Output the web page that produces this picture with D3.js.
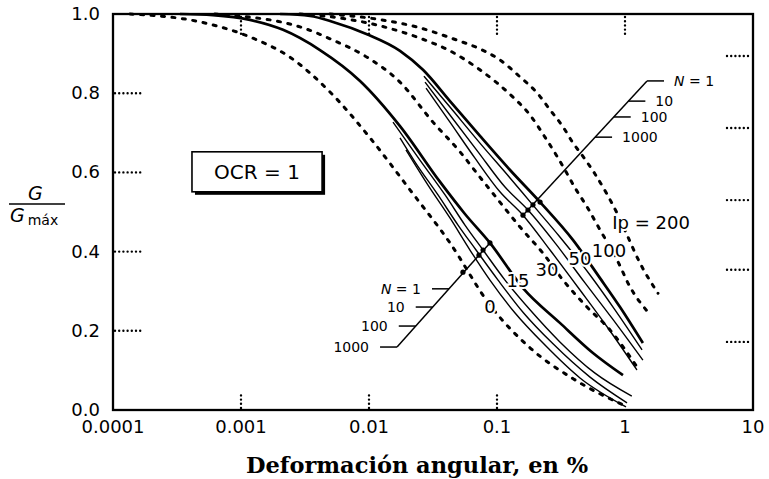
<!DOCTYPE html>
<html><head><meta charset="utf-8">
<script src="https://cdn.jsdelivr.net/npm/d3@7"></script>
<style>body{margin:0;background:#fff}</style>
</head><body>
<svg id="chart" width="769" height="479"></svg>
<script>
// Axis ticks
const xTicks = [0.0001, 0.001, 0.01, 0.1, 1, 10];
const xTickLabels = ["0.0001", "0.001", "0.01", "0.1", "1", "10"];
const yTicks = [0, 0.2, 0.4, 0.6, 0.8, 1.0];
const yTickLabels = ["0.0", "0.2", "0.4", "0.6", "0.8", "1.0"];
const topMarks = [0.001, 0.01, 0.1, 1];
const bottomMarks = [0.001, 0.01, 0.1];
const leftMarks = [0.2, 0.4, 0.6, 0.8];
const rightMarks = [0.894, 0.712, 0.530, 0.354, 0.172];

// Reference curves by plasticity index (dashed): [strain %, G/Gmax]
const ip0 = [[0.000136,1.0],[0.000479,0.980],[0.001175,0.942],[0.00241,0.891],[0.00496,0.803],[0.0102,0.687],[0.0209,0.556],[0.0429,0.422],[0.0881,0.265],[0.181,0.157],[0.407,0.076],[1.04,0.008]];
const ip30 = [[0.000626,1.0],[0.001175,0.992],[0.00191,0.982],[0.00305,0.965],[0.00524,0.934],[0.00964,0.891],[0.01746,0.828],[0.0316,0.727],[0.0514,0.652],[0.0736,0.588],[0.1054,0.525],[0.1514,0.462],[0.2286,0.396],[0.328,0.328],[0.505,0.260],[0.764,0.202],[1.24,0.109]];
const ip100 = [[0.00289,1.0],[0.00593,0.990],[0.01155,0.972],[0.0250,0.939],[0.0429,0.907],[0.0736,0.859],[0.1,0.826],[0.1334,0.790],[0.181,0.745],[0.237,0.689],[0.284,0.649],[0.340,0.606],[0.407,0.561],[0.505,0.513],[0.638,0.455],[0.867,0.379],[1.094,0.311],[1.513,0.247]];
const ip200 = [[0.00496,1.0],[0.01155,0.987],[0.0237,0.967],[0.0487,0.934],[0.0736,0.912],[0.1054,0.884],[0.1514,0.841],[0.2054,0.801],[0.2596,0.758],[0.328,0.715],[0.393,0.674],[0.461,0.644],[0.583,0.596],[0.723,0.545],[0.867,0.497],[1.037,0.442],[1.31,0.371],[1.81,0.295]];

// Ip = 15 soil: N = 1 (thick) and degraded curves after N cycles
const ip15N1 = [[0.000333,1.0],[0.000604,0.997],[0.001175,0.985],[0.00213,0.960],[0.00414,0.909],[0.00851,0.831],[0.01746,0.717],[0.0359,0.576],[0.0562,0.495],[0.0881,0.422],[0.1596,0.308],[0.310,0.220],[0.562,0.144],[0.964,0.088]];
const ip15N10 = [[0.0154,0.727],[0.0250,0.631],[0.0393,0.543],[0.0562,0.467],[0.0778,0.404],[0.1155,0.328],[0.181,0.253],[0.310,0.172],[0.583,0.093],[1.13,0.035]];
const ip15N100 = [[0.01746,0.687],[0.0229,0.626],[0.0346,0.543],[0.0496,0.467],[0.0686,0.404],[0.1019,0.328],[0.1596,0.247],[0.274,0.167],[0.533,0.083],[1.037,0.018]];
const ip15N1000 = [[0.01945,0.657],[0.0289,0.568],[0.0429,0.485],[0.0615,0.404],[0.0881,0.328],[0.1384,0.245],[0.237,0.164],[0.445,0.081],[1.018,0.008]];

// Ip = 50 soil: N = 1 (thick) and degraded curves after N cycles
const ip50N1 = [[0.00202,1.0],[0.00346,0.995],[0.00524,0.980],[0.00964,0.949],[0.01746,0.907],[0.0264,0.859],[0.0429,0.780],[0.0736,0.692],[0.1264,0.606],[0.217,0.525],[0.393,0.429],[0.638,0.333],[0.914,0.260],[1.38,0.169]];
const ip50N10 = [[0.0269,0.843],[0.0429,0.765],[0.0736,0.674],[0.1264,0.586],[0.1845,0.523],[0.310,0.437],[0.533,0.341],[0.835,0.253],[1.358,0.152]];
const ip50N100 = [[0.0274,0.828],[0.0429,0.745],[0.0711,0.652],[0.1155,0.563],[0.1746,0.505],[0.284,0.422],[0.487,0.321],[0.791,0.232],[1.38,0.126]];
const ip50N1000 = [[0.0279,0.813],[0.0429,0.727],[0.0673,0.636],[0.1054,0.551],[0.1596,0.492],[0.2596,0.404],[0.445,0.303],[0.736,0.207],[1.24,0.101]];

// Curve labels
const curveLabelText = ["0", "15", "30", "50", "100", "Ip = 200"];
const curveLabelAt = [[0.0881,0.262],[0.146,0.328],[0.246,0.356],[0.445,0.384],[0.750,0.404],[1.60,0.475]];

// Cycle-count call-outs
const cycleLabels = ["1", "10", "100", "1000"];
const lowerLeaderFrom = [0.01656, 0.159];
const lowerTickG = [0.306, 0.260, 0.212, 0.159];
const lowerDots = [[0.0881,0.422],[0.0778,0.404],[0.0723,0.391],[0.0542,0.348]];
const upperLeaderFrom = [1.486, 0.831];
const upperTickG = [0.831, 0.780, 0.740, 0.689];
const upperDots = [[0.217,0.525],[0.191,0.518],[0.1746,0.505],[0.1596,0.492]];

// OCR box corners
const ocrBox = [[0.000414, 0.652], [0.0043, 0.551]];

const svg = d3.select("#chart");
const x = d3.scaleLog().domain([1e-4, 10]).range([113, 753]);
const y = d3.scaleLinear().domain([0, 1]).range([410, 14]);
const SANS = "'DejaVu Sans', sans-serif";

const line = d3.line().x(d => x(d[0])).y(d => y(d[1])).curve(d3.curveMonotoneX);

// Dotted tick marks inside the frame
const dotted = {stroke: "#000", "stroke-width": 2.4, "stroke-linecap": "round", "stroke-dasharray": "0 4.2"};
function applyAttrs(sel, o) { for (const k in o) sel.attr(k, o[k]); return sel; }
const g = svg.append("g");
applyAttrs(g.selectAll(".lt").data(leftMarks).join("line")
  .attr("x1", x(1e-4) + 2).attr("x2", x(1e-4) + 28).attr("y1", d => y(d)).attr("y2", d => y(d)), dotted);
applyAttrs(g.selectAll(".rt").data(rightMarks).join("line")
  .attr("x1", x(10) - 26).attr("x2", x(10) - 2).attr("y1", d => y(d)).attr("y2", d => y(d)), dotted);
applyAttrs(g.selectAll(".tt").data(topMarks).join("line")
  .attr("x1", d => x(d)).attr("x2", d => x(d)).attr("y1", y(1) + 3).attr("y2", y(1) + 22), dotted);
applyAttrs(g.selectAll(".bt").data(bottomMarks).join("line")
  .attr("x1", d => x(d)).attr("x2", d => x(d)).attr("y1", y(0) - 2).attr("y2", y(0) - 18), dotted);

// Dashed curves
[ip0, ip30, ip100, ip200].forEach(c => {
  svg.append("path").attr("d", line(c)).attr("fill", "none").attr("stroke", "#000")
    .attr("stroke-width", 3).attr("stroke-linecap", "round").attr("stroke-dasharray", "3 7.5");
});
// Thin degraded curves
[ip15N10, ip15N100, ip15N1000, ip50N10, ip50N100, ip50N1000].forEach(c => {
  svg.append("path").attr("d", line(c)).attr("fill", "none").attr("stroke", "#000").attr("stroke-width", 1.4);
});
// Thick N = 1 curves
[ip15N1, ip50N1].forEach(c => {
  svg.append("path").attr("d", line(c)).attr("fill", "none").attr("stroke", "#000").attr("stroke-width", 2.7);
});

// Frame
svg.append("rect").attr("x", x(1e-4)).attr("y", y(1)).attr("width", x(10) - x(1e-4)).attr("height", y(0) - y(1))
  .attr("fill", "none").attr("stroke", "#000").attr("stroke-width", 2.3);

// Axis tick labels
svg.selectAll(".xl").data(xTicks).join("text")
  .attr("x", d => x(d)).attr("y", y(0) + 23).attr("text-anchor", "middle")
  .attr("font-family", SANS).attr("font-size", 18).text((d, i) => xTickLabels[i]);
svg.selectAll(".yl").data(yTicks).join("text")
  .attr("x", x(1e-4) - 13).attr("y", d => y(d) + 6).attr("text-anchor", "end")
  .attr("font-family", SANS).attr("font-size", 18).text((d, i) => yTickLabels[i]);

// Axis titles
svg.append("text").attr("x", 417).attr("y", 473).attr("text-anchor", "middle")
  .attr("font-family", "'DejaVu Serif', serif").attr("font-weight", "bold").attr("font-size", 22.5)
  .text("Deformación angular, en %");
svg.append("text").attr("x", 28).attr("y", 200).attr("font-family", SANS).attr("font-style", "italic")
  .attr("font-size", 19).text("G");
svg.append("line").attr("x1", 9).attr("x2", 65).attr("y1", 204).attr("y2", 204).attr("stroke", "#000").attr("stroke-width", 1.5);
const gm = svg.append("text").attr("x", 10).attr("y", 222).attr("font-family", SANS).attr("font-size", 19);
gm.append("tspan").attr("font-style", "italic").text("G");
gm.append("tspan").attr("font-size", 14).attr("dx", 3).attr("dy", 3).text("máx");

// OCR box with drop shadow
const bx0 = x(ocrBox[0][0]), by0 = y(ocrBox[0][1]), bx1 = x(ocrBox[1][0]), by1 = y(ocrBox[1][1]);
svg.append("rect").attr("x", bx0 + 3).attr("y", by0 + 3).attr("width", bx1 - bx0).attr("height", by1 - by0).attr("fill", "#000");
svg.append("rect").attr("x", bx0).attr("y", by0).attr("width", bx1 - bx0).attr("height", by1 - by0)
  .attr("fill", "#fff").attr("stroke", "#000").attr("stroke-width", 1.6);
svg.append("text").attr("x", (bx0 + bx1) / 2).attr("y", (by0 + by1) / 2 + 7).attr("text-anchor", "middle")
  .attr("font-family", SANS).attr("font-size", 20).text("OCR = 1");

// Curve labels (white halo breaks the lines beneath)
svg.selectAll(".cl").data(curveLabelAt).join("text")
  .attr("x", d => x(d[0])).attr("y", d => y(d[1]) + 7).attr("text-anchor", "middle")
  .attr("font-family", SANS).attr("font-size", 18)
  .attr("stroke", "#fff").attr("stroke-width", 4).attr("paint-order", "stroke")
  .text((d, i) => curveLabelText[i]);

// Cycle-count call-outs
function callout(from, dots, tickG, side) {
  const end = dots[side === "left" ? 0 : dots.length - 1];
  const p0 = [x(from[0]), y(from[1])], p1 = [x(end[0]), y(end[1])];
  svg.append("line").attr("x1", p0[0]).attr("y1", p0[1]).attr("x2", p1[0]).attr("y2", p1[1])
    .attr("stroke", "#000").attr("stroke-width", 1.5);
  tickG.forEach((gv, i) => {
    const py = y(gv), t = (py - p0[1]) / (p1[1] - p0[1]), px = p0[0] + t * (p1[0] - p0[0]);
    const len = 17, x2 = side === "left" ? px - len : px + len;
    svg.append("line").attr("x1", px).attr("x2", x2).attr("y1", py).attr("y2", py)
      .attr("stroke", "#000").attr("stroke-width", 1.5);
    const t2 = svg.append("text").attr("x", side === "left" ? x2 - 11 : x2 + 10).attr("y", py + 5)
      .attr("text-anchor", side === "left" ? "end" : "start").attr("font-family", SANS).attr("font-size", 14);
    if (i === 0) {
      t2.append("tspan").attr("font-style", "italic").text("N");
      t2.append("tspan").text(" = " + cycleLabels[i]);
    } else t2.text(cycleLabels[i]);
  });
  svg.selectAll(null).data(dots).join("circle").attr("cx", d => x(d[0])).attr("cy", d => y(d[1])).attr("r", 2.6).attr("fill", "#000");
}
callout(lowerLeaderFrom, lowerDots, lowerTickG, "left");
callout(upperLeaderFrom, upperDots, upperTickG, "right");
</script>
</body></html>
